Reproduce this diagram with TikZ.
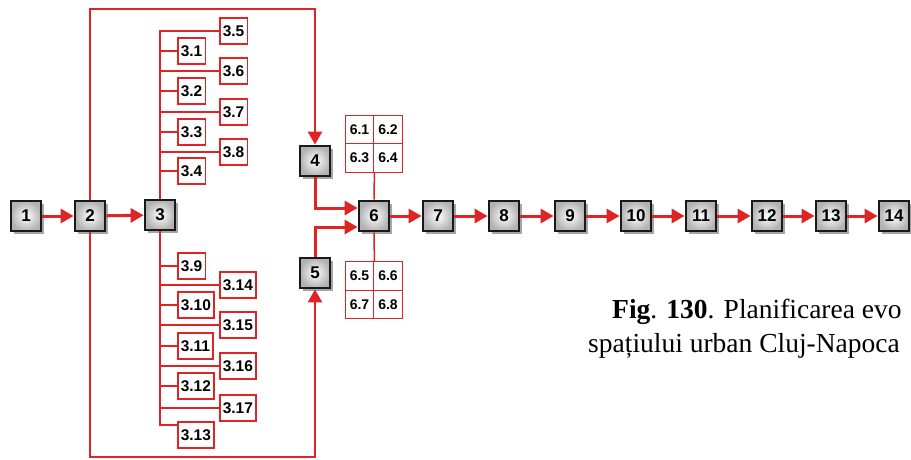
\documentclass[tikz,border=0pt]{standalone}
\usepackage{fontspec}
\setmainfont{Liberation Serif}
\newfontfamily\boxfont{Liberation Sans}
\usetikzlibrary{arrows.meta,shadows,calc}
\definecolor{redc}{RGB}{222,36,36}
\begin{document}
\begin{tikzpicture}[x=1pt,y=-1pt,
 mainbox/.style={draw=black!90, line width=2.8pt, minimum size=30pt, inner sep=0pt,
   inner color=white, outer color=black!30,
   drop shadow={shadow xshift=3pt, shadow yshift=-3pt, opacity=0.35, fill=black},
   font=\boxfont\bfseries\fontsize{17}{17}\selectfont},
 subbox/.style={draw=redc, line width=1.5pt, fill=white, minimum height=26pt,
   minimum width=26pt, inner xsep=3pt, inner ysep=2pt,
   font=\boxfont\bfseries\fontsize{15.5}{15.5}\selectfont},
 cell/.style={draw=redc, line width=1.3pt, fill=white, minimum size=28.5pt, inner sep=0pt,
   font=\boxfont\bfseries\fontsize{14}{14}\selectfont},
 flow/.style={draw=redc, line width=3pt, -{Triangle[length=13pt,width=14pt]}},
 loopln/.style={draw=redc, line width=2.5pt, -{Triangle[length=13pt,width=14pt]}},
 branch/.style={draw=redc, line width=1.5pt},
 captxt/.style={anchor=base west, inner sep=0pt, font=\fontsize{27.5}{27.5}\selectfont},
]
\useasboundingbox (0,0) rectangle (911,459);
\fill[white] (0,0) rectangle (911,459);

% main chain
\node[mainbox] (n1) at (26,216) {1};
\node[mainbox] (n2) at (90,216) {2};
\node[mainbox] (n3) at (160,215) {3};
\node[mainbox] (n4) at (315,161) {4};
\node[mainbox] (n5) at (315,273) {5};
\node[mainbox] (n6) at (374,216) {6};
\node[mainbox] (n7) at (438,216) {7};
\node[mainbox] (n8) at (504,216) {8};
\node[mainbox] (n9) at (570,216) {9};
\node[mainbox] (n10) at (636,216) {10};
\node[mainbox] (n11) at (701,216) {11};
\node[mainbox] (n12) at (767,216) {12};
\node[mainbox] (n13) at (831,216) {13};
\node[mainbox] (n14) at (894,216) {14};

% sub-boxes of 3 (top)
\node[subbox, anchor=west] (s35) at (219,31) {3.5};
\node[subbox, anchor=west] (s31) at (177,51) {3.1};
\node[subbox, anchor=west] (s36) at (219,71) {3.6};
\node[subbox, anchor=west] (s32) at (177,91) {3.2};
\node[subbox, anchor=west] (s37) at (219,112) {3.7};
\node[subbox, anchor=west] (s33) at (177,132) {3.3};
\node[subbox, anchor=west] (s38) at (219,152) {3.8};
\node[subbox, anchor=west] (s34) at (177,171) {3.4};
% sub-boxes of 3 (bottom)
\node[subbox, anchor=west] (s39) at (177,266) {3.9};
\node[subbox, anchor=west] (s314) at (219,285) {3.14};
\node[subbox, anchor=west] (s310) at (177,305) {3.10};
\node[subbox, anchor=west] (s315) at (219,325) {3.15};
\node[subbox, anchor=west] (s311) at (177,346) {3.11};
\node[subbox, anchor=west] (s316) at (219,366) {3.16};
\node[subbox, anchor=west] (s312) at (177,386) {3.12};
\node[subbox, anchor=west] (s317) at (219,408) {3.17};
\node[subbox, anchor=west] (s313) at (177,435) {3.13};
\coordinate (in313) at (177,425);

% spine of 3
\draw[branch] (s35.west) -| (n3.north);
\draw[branch] (in313) -| (n3.south);
\foreach \s in {s31,s36,s32,s37,s33,s38,s34,s39,s314,s310,s315,s311,s316,s312,s317}
  \draw[branch] (\s.west) -- (\s.west -| n3.north);

% grids of 6
\node[cell] (g61) at (359.5,129.5) {6.1};
\node[cell] (g62) at (388,129.5) {6.2};
\node[cell] (g63) at (359.5,158) {6.3};
\node[cell] (g64) at (388,158) {6.4};
\node[cell] (g65) at (359.5,276) {6.5};
\node[cell] (g66) at (388,276) {6.6};
\node[cell] (g67) at (359.5,304.5) {6.7};
\node[cell] (g68) at (388,304.5) {6.8};
\draw[branch] (n6.north) -- (g63.south east);
\draw[branch] (n6.south) -- (g65.north east);

% flow arrows
\draw[flow] (n1) -- (n2);
\draw[flow] (n2) -- (n3);
\draw[flow] (n6) -- (n7);
\draw[flow] (n7) -- (n8);
\draw[flow] (n8) -- (n9);
\draw[flow] (n9) -- (n10);
\draw[flow] (n10) -- (n11);
\draw[flow] (n11) -- (n12);
\draw[flow] (n12) -- (n13);
\draw[flow] (n13) -- (n14);
\coordinate (in4) at (358,208);
\coordinate (in5) at (358,227);
\draw[flow] (n4.south) |- (n6.west |- in4);
\draw[flow] (n5.north) |- (n6.west |- in5);

% loops from 2
\coordinate (topy) at (0,9);
\coordinate (boty) at (0,457);
\draw[loopln] (n2.north) -- (n2.north |- topy) -| (n4.north);
\draw[loopln] (n2.south) -- (n2.south |- boty) -| (n5.south);

% caption
\node[captxt] (cap1) at (612,318) {\textbf{Fig}. \textbf{130}. Planificarea evo};
\node[captxt] (cap2) at (588,352) {spațiului urban Cluj-Napoca};
\end{tikzpicture}
\end{document}
